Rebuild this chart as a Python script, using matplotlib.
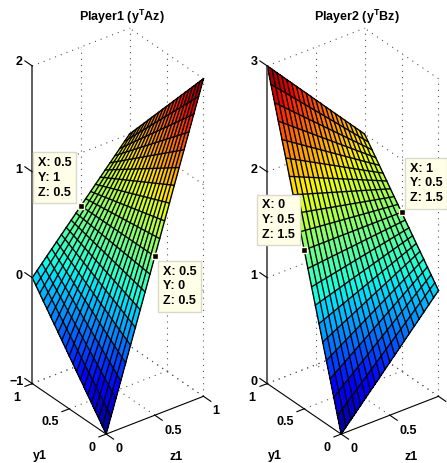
import matplotlib
matplotlib.use("Agg")
import matplotlib.pyplot as plt
import numpy as np
from mpl_toolkits.mplot3d import proj3d

plt.rcParams["font.family"] = ["Liberation Sans", "DejaVu Sans"]
plt.rcParams["font.weight"] = "bold"
plt.rcParams["mathtext.fontset"] = "custom"
plt.rcParams["mathtext.bf"] = "Liberation Sans:bold"

# mesh of the two strategies
z1 = [0, .05, .1, .15, .2, .25, .3, .35, .4, .45, .5, .55, .6, .65, .7, .75, .8, .85, .9, .95, 1]
y1 = [0, .05, .1, .15, .2, .25, .3, .35, .4, .45, .5, .55, .6, .65, .7, .75, .8, .85, .9, .95, 1]

# one row per y1 value
player1 = [
    [-1, -.85, -.7, -.55, -.4, -.25, -.1, .05, .2, .35, .5, .65, .8, .95, 1.1, 1.25, 1.4, 1.55, 1.7, 1.85, 2],
    [-.95, -.805, -.66, -.515, -.37, -.225, -.08, .065, .21, .355, .5, .645, .79, .935, 1.08, 1.225, 1.37, 1.515, 1.66, 1.805, 1.95],
    [-.9, -.76, -.62, -.48, -.34, -.2, -.06, .08, .22, .36, .5, .64, .78, .92, 1.06, 1.2, 1.34, 1.48, 1.62, 1.76, 1.9],
    [-.85, -.715, -.58, -.445, -.31, -.175, -.04, .095, .23, .365, .5, .635, .77, .905, 1.04, 1.175, 1.31, 1.445, 1.58, 1.715, 1.85],
    [-.8, -.67, -.54, -.41, -.28, -.15, -.02, .11, .24, .37, .5, .63, .76, .89, 1.02, 1.15, 1.28, 1.41, 1.54, 1.67, 1.8],
    [-.75, -.625, -.5, -.375, -.25, -.125, 0, .125, .25, .375, .5, .625, .75, .875, 1, 1.125, 1.25, 1.375, 1.5, 1.625, 1.75],
    [-.7, -.58, -.46, -.34, -.22, -.1, .02, .14, .26, .38, .5, .62, .74, .86, .98, 1.1, 1.22, 1.34, 1.46, 1.58, 1.7],
    [-.65, -.535, -.42, -.305, -.19, -.075, .04, .155, .27, .385, .5, .615, .73, .845, .96, 1.075, 1.19, 1.305, 1.42, 1.535, 1.65],
    [-.6, -.49, -.38, -.27, -.16, -.05, .06, .17, .28, .39, .5, .61, .72, .83, .94, 1.05, 1.16, 1.27, 1.38, 1.49, 1.6],
    [-.55, -.445, -.34, -.235, -.13, -.025, .08, .185, .29, .395, .5, .605, .71, .815, .92, 1.025, 1.13, 1.235, 1.34, 1.445, 1.55],
    [-.5, -.4, -.3, -.2, -.1, 0, .1, .2, .3, .4, .5, .6, .7, .8, .9, 1, 1.1, 1.2, 1.3, 1.4, 1.5],
    [-.45, -.355, -.26, -.165, -.07, .025, .12, .215, .31, .405, .5, .595, .69, .785, .88, .975, 1.07, 1.165, 1.26, 1.355, 1.45],
    [-.4, -.31, -.22, -.13, -.04, .05, .14, .23, .32, .41, .5, .59, .68, .77, .86, .95, 1.04, 1.13, 1.22, 1.31, 1.4],
    [-.35, -.265, -.18, -.095, -.01, .075, .16, .245, .33, .415, .5, .585, .67, .755, .84, .925, 1.01, 1.095, 1.18, 1.265, 1.35],
    [-.3, -.22, -.14, -.06, .02, .1, .18, .26, .34, .42, .5, .58, .66, .74, .82, .9, .98, 1.06, 1.14, 1.22, 1.3],
    [-.25, -.175, -.1, -.025, .05, .125, .2, .275, .35, .425, .5, .575, .65, .725, .8, .875, .95, 1.025, 1.1, 1.175, 1.25],
    [-.2, -.13, -.06, .01, .08, .15, .22, .29, .36, .43, .5, .57, .64, .71, .78, .85, .92, .99, 1.06, 1.13, 1.2],
    [-.15, -.085, -.02, .045, .11, .175, .24, .305, .37, .435, .5, .565, .63, .695, .76, .825, .89, .955, 1.02, 1.085, 1.15],
    [-.1, -.04, .02, .08, .14, .2, .26, .32, .38, .44, .5, .56, .62, .68, .74, .8, .86, .92, .98, 1.04, 1.1],
    [-.05, .005, .06, .115, .17, .225, .28, .335, .39, .445, .5, .555, .61, .665, .72, .775, .83, .885, .94, .995, 1.05],
    [0, .05, .1, .15, .2, .25, .3, .35, .4, .45, .5, .55, .6, .65, .7, .75, .8, .85, .9, .95, 1],
]
player2 = [
    [0, .05, .1, .15, .2, .25, .3, .35, .4, .45, .5, .55, .6, .65, .7, .75, .8, .85, .9, .95, 1],
    [.15, .195, .24, .285, .33, .375, .42, .465, .51, .555, .6, .645, .69, .735, .78, .825, .87, .915, .96, 1.005, 1.05],
    [.3, .34, .38, .42, .46, .5, .54, .58, .62, .66, .7, .74, .78, .82, .86, .9, .94, .98, 1.02, 1.06, 1.1],
    [.45, .485, .52, .555, .59, .625, .66, .695, .73, .765, .8, .835, .87, .905, .94, .975, 1.01, 1.045, 1.08, 1.115, 1.15],
    [.6, .63, .66, .69, .72, .75, .78, .81, .84, .87, .9, .93, .96, .99, 1.02, 1.05, 1.08, 1.11, 1.14, 1.17, 1.2],
    [.75, .775, .8, .825, .85, .875, .9, .925, .95, .975, 1, 1.025, 1.05, 1.075, 1.1, 1.125, 1.15, 1.175, 1.2, 1.225, 1.25],
    [.9, .92, .94, .96, .98, 1, 1.02, 1.04, 1.06, 1.08, 1.1, 1.12, 1.14, 1.16, 1.18, 1.2, 1.22, 1.24, 1.26, 1.28, 1.3],
    [1.05, 1.065, 1.08, 1.095, 1.11, 1.125, 1.14, 1.155, 1.17, 1.185, 1.2, 1.215, 1.23, 1.245, 1.26, 1.275, 1.29, 1.305, 1.32, 1.335, 1.35],
    [1.2, 1.21, 1.22, 1.23, 1.24, 1.25, 1.26, 1.27, 1.28, 1.29, 1.3, 1.31, 1.32, 1.33, 1.34, 1.35, 1.36, 1.37, 1.38, 1.39, 1.4],
    [1.35, 1.355, 1.36, 1.365, 1.37, 1.375, 1.38, 1.385, 1.39, 1.395, 1.4, 1.405, 1.41, 1.415, 1.42, 1.425, 1.43, 1.435, 1.44, 1.445, 1.45],
    [1.5, 1.5, 1.5, 1.5, 1.5, 1.5, 1.5, 1.5, 1.5, 1.5, 1.5, 1.5, 1.5, 1.5, 1.5, 1.5, 1.5, 1.5, 1.5, 1.5, 1.5],
    [1.65, 1.645, 1.64, 1.635, 1.63, 1.625, 1.62, 1.615, 1.61, 1.605, 1.6, 1.595, 1.59, 1.585, 1.58, 1.575, 1.57, 1.565, 1.56, 1.555, 1.55],
    [1.8, 1.79, 1.78, 1.77, 1.76, 1.75, 1.74, 1.73, 1.72, 1.71, 1.7, 1.69, 1.68, 1.67, 1.66, 1.65, 1.64, 1.63, 1.62, 1.61, 1.6],
    [1.95, 1.935, 1.92, 1.905, 1.89, 1.875, 1.86, 1.845, 1.83, 1.815, 1.8, 1.785, 1.77, 1.755, 1.74, 1.725, 1.71, 1.695, 1.68, 1.665, 1.65],
    [2.1, 2.08, 2.06, 2.04, 2.02, 2, 1.98, 1.96, 1.94, 1.92, 1.9, 1.88, 1.86, 1.84, 1.82, 1.8, 1.78, 1.76, 1.74, 1.72, 1.7],
    [2.25, 2.225, 2.2, 2.175, 2.15, 2.125, 2.1, 2.075, 2.05, 2.025, 2, 1.975, 1.95, 1.925, 1.9, 1.875, 1.85, 1.825, 1.8, 1.775, 1.75],
    [2.4, 2.37, 2.34, 2.31, 2.28, 2.25, 2.22, 2.19, 2.16, 2.13, 2.1, 2.07, 2.04, 2.01, 1.98, 1.95, 1.92, 1.89, 1.86, 1.83, 1.8],
    [2.55, 2.515, 2.48, 2.445, 2.41, 2.375, 2.34, 2.305, 2.27, 2.235, 2.2, 2.165, 2.13, 2.095, 2.06, 2.025, 1.99, 1.955, 1.92, 1.885, 1.85],
    [2.7, 2.66, 2.62, 2.58, 2.54, 2.5, 2.46, 2.42, 2.38, 2.34, 2.3, 2.26, 2.22, 2.18, 2.14, 2.1, 2.06, 2.02, 1.98, 1.94, 1.9],
    [2.85, 2.805, 2.76, 2.715, 2.67, 2.625, 2.58, 2.535, 2.49, 2.445, 2.4, 2.355, 2.31, 2.265, 2.22, 2.175, 2.13, 2.085, 2.04, 1.995, 1.95],
    [3, 2.95, 2.9, 2.85, 2.8, 2.75, 2.7, 2.65, 2.6, 2.55, 2.5, 2.45, 2.4, 2.35, 2.3, 2.25, 2.2, 2.15, 2.1, 2.05, 2],
]

xy_ticks = [0, .5, 1]
xy_labels = ["0", "0.5", "1"]
# the right panel's last z1 label falls off the canvas in the reference
z1_labels_1 = ["0", "0.5", "1"]
z1_labels_2 = ["0", "0.5", ""]
z_ticks_1 = [-1, 0, 1, 2]
z_labels_1 = ["\u22121", "0", "1", "2"]
z_ticks_2 = [0, 1, 2, 3]
z_labels_2 = ["0", "1", "2", "3"]

# data tips: x, y, z
tips_1 = [(.5, 1, .5), (.5, 0, .5)]
tips_2 = [(1, .5, 1.5), (0, .5, 1.5)]
tip_text_1 = ["X: 0.5\nY: 1\nZ: 0.5", "X: 0.5\nY: 0\nZ: 0.5"]
tip_text_2 = ["X: 1\nY: 0.5\nZ: 1.5", "X: 0\nY: 0.5\nZ: 1.5"]

W, H = 447, 463
AX_SIZE = 397
FONT = 9


def put_text(ax, x, y, z, text, dx, dy, **kw):
    # text next to a 3d point, dx/dy in pixels with dy going down
    px, py, _ = proj3d.proj_transform(x, y, z, ax.get_proj())
    kw.setdefault("ha", "center")
    ann = ax.annotate(text, xy=(px, py), xytext=(dx, -dy - 1), textcoords="offset pixels",
                      va="center", fontsize=FONT, fontweight="bold",
                      annotation_clip=False, **kw)
    ann.set_clip_on(False)
    return ann


def line(ax, xs, ys, zs, **kw):
    ax.plot(xs, ys, zs, clip_on=False, **kw)


def panel(left, data, z_ticks, z_labels, z1_labels, tips, tip_text, tip_offsets):
    ax = fig.add_axes([left / W, 28 / H, AX_SIZE / W, AX_SIZE / H],
                      projection="3d", proj_type="ortho", computed_zorder=False)
    zmin, zmax = z_ticks[0], z_ticks[-1]
    ax.set_xlim(0, 1)
    ax.set_ylim(0, 1)
    ax.set_zlim(zmin, zmax)
    ax.view_init(elev=31, azim=233)
    ax.set_box_aspect((121, 122, 368))
    ax.set_axis_off()
    ax.set_facecolor("none")

    dots = dict(color="#555555", lw=0.8, ls=(0, (1, 4.5)), zorder=1)
    for t in xy_ticks[1:]:
        line(ax, [t, t], [0, 1], [zmin, zmin], **dots)
        line(ax, [0, 1], [t, t], [zmin, zmin], **dots)
        line(ax, [t, t], [1, 1], [zmin, zmax], **dots)
    line(ax, [1, 1], [0, 0], [zmin, zmax], **dots)
    line(ax, [1, 1], [.5, .5], [zmin, zmax], **dots)
    for z in z_ticks:
        line(ax, [0, 1], [1, 1], [z, z], **dots)
        line(ax, [1, 1], [0, 1], [z, z], **dots)

    X, Y = np.meshgrid(z1, y1)
    Z = np.array(data)
    ax.plot_surface(X, Y, Z, rstride=1, cstride=1, cmap="jet", vmin=zmin, vmax=zmax,
                    linewidth=0, antialiased=False, shade=False, zorder=2)
    # both mesh families drawn as plain lines, the faces would hide one of them
    for i in range(len(y1)):
        line(ax, X[i], Y[i], Z[i], color="black", lw=1.0, zorder=3)
    for j in range(len(z1)):
        line(ax, X[:, j], Y[:, j], Z[:, j], color="black", lw=1.0, zorder=3)

    # axes lines and ticks
    solid = dict(color="black", lw=0.8, zorder=3)
    line(ax, [0, 1], [0, 0], [zmin, zmin], **solid)
    line(ax, [0, 0], [0, 1], [zmin, zmin], **solid)
    line(ax, [0, 0], [1, 1], [zmin, zmax], color="#444444", lw=1.2, zorder=3)
    for t in xy_ticks:
        line(ax, [t, t], [0, -.1], [zmin, zmin], **solid)
        line(ax, [0, -.075], [t, t], [zmin, zmin], **solid)
    for z in z_ticks:
        line(ax, [0, 0], [1, 1.1], [z, z], **solid)

    for t, lab, dx, dy in zip(xy_ticks, z1_labels, [13, 18, 12], [14, 15, 14]):
        put_text(ax, t, 0, zmin, lab, dx, dy)
    for t, lab, dx, dy in zip(xy_ticks, xy_labels, [-14, -19, -15], [13, 12, 13]):
        put_text(ax, 0, t, zmin, lab, dx, dy)
    for z, lab in zip(z_ticks, z_labels):
        put_text(ax, 0, 1, z, lab, -16 if lab[0] == "\u2212" else -13,
                 -5 if z == zmax else -3)

    put_text(ax, 0, 0, zmin, "y1", -66, 21)
    put_text(ax, 0, 0, zmin, "z1", 70, 22)

    for (x, y, z), txt, (dx, dy) in zip(tips, tip_text, tip_offsets):
        ax.plot([x], [y], [z], "s", ms=5, mfc="black", mec="#ffffdd", mew=1,
                clip_on=False, zorder=4)
        put_text(ax, x, y, z, txt, dx, dy, ha="left", linespacing=1.3, zorder=5,
                 bbox=dict(boxstyle="square,pad=0.38", fc="#ffffe8", ec="#d9d9cc", lw=1))
    return ax


fig = plt.figure(figsize=(W / 100, H / 100), dpi=100)

panel(-86, player1, z_ticks_1, z_labels_1, z1_labels_1, tips_1, tip_text_1, [(-43, -29), (8, 29)])
panel(149, player2, z_ticks_2, z_labels_2, z1_labels_2, tips_2, tip_text_2, [(8, -30), (-42, -31)])

fig.text(122 / W, 1 - 17 / H, "Player1 (y$^{\\mathbf{T}}$Az)", ha="center", va="center",
         fontsize=FONT, fontweight="bold")
fig.text(357 / W, 1 - 17 / H, "Player2 (y$^{\\mathbf{T}}$Bz)", ha="center", va="center",
         fontsize=FONT, fontweight="bold")

fig.savefig("out.png", dpi=100)
